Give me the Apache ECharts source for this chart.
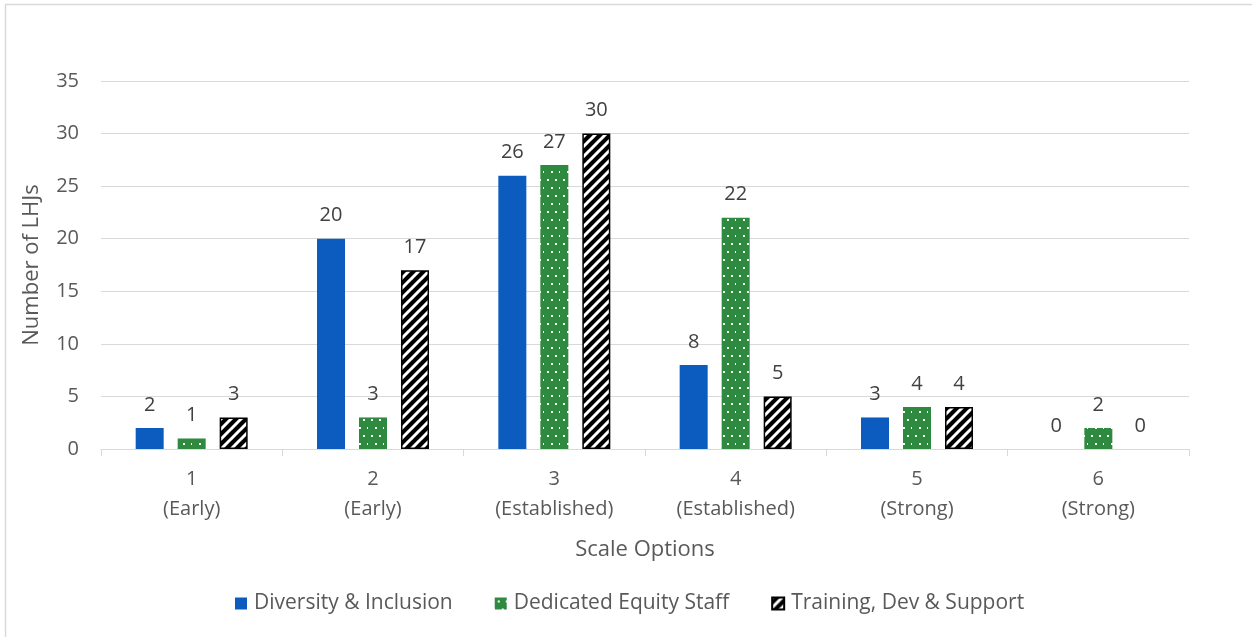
<!DOCTYPE html>
<html>
<head>
<meta charset="utf-8">
<script src="https://cdn.jsdelivr.net/npm/echarts@6/dist/echarts.min.js"></script>
<style>
  html, body { margin: 0; padding: 0; background: #fff; }
  #chart { width: 1252px; height: 637px; }
</style>
</head>
<body>
<div id="chart"></div>
<script>
// Scale levels shown on the x axis (number + stage)
const categories = ['1\n(Early)', '2\n(Early)', '3\n(Established)', '4\n(Established)', '5\n(Strong)', '6\n(Strong)'];
const seriesNames = ['Diversity & Inclusion', 'Dedicated Equity Staff', 'Training, Dev & Support'];
const diversityInclusion = [2, 20, 26, 8, 3, 0];
const dedicatedEquityStaff = [1, 3, 27, 22, 4, 2];
const trainingDevSupport = [3, 17, 30, 5, 4, 0];
const yTicks = { min: 0, max: 35, interval: 5 };

const FONT = '"Open Sans", "Liberation Sans", sans-serif';
const TEXT = '#595959';
const LINE = '#d9d9d9';

// Green fill with small white dots
function dotPattern() {
  const c = document.createElement('canvas');
  c.width = 16; c.height = 16;
  const g = c.getContext('2d');
  g.fillStyle = '#2e8a3f';
  g.fillRect(0, 0, 16, 16);
  g.fillStyle = '#ffffff';
  g.fillRect(3, 3, 2, 2);
  g.fillRect(11, 3, 2, 2);
  g.fillRect(7, 11, 2, 2);
  g.fillRect(15, 11, 1, 2);
  return c;
}

// Black fill with white upward diagonal stripes
function stripePattern() {
  const s = 10;
  const c = document.createElement('canvas');
  c.width = s; c.height = s;
  const g = c.getContext('2d');
  g.fillStyle = '#000';
  g.fillRect(0, 0, s, s);
  g.strokeStyle = '#fff';
  g.lineWidth = 3;
  g.beginPath();
  for (let k = -1; k <= 1; k++) {
    g.moveTo(k * s - 1, s + 1);
    g.lineTo(k * s + s + 1, -1);
  }
  g.stroke();
  return c;
}

// Zero-height bars get no outline so nothing is drawn on the baseline
function withOutline(values, outline) {
  return values.map(v => ({ value: v, itemStyle: v === 0 ? { borderWidth: 0 } : outline }));
}

const chart = echarts.init(document.getElementById('chart'));

const labelStyle = {
  show: true,
  position: 'top',
  distance: 13,
  color: '#404040',
  fontSize: 20,
  fontFamily: FONT
};

chart.setOption({
  backgroundColor: '#ffffff',
  animation: false,
  graphic: [{
    type: 'rect',
    shape: { x: 5.5, y: 4.5, width: 1400, height: 800 },
    style: { fill: 'none', stroke: LINE, lineWidth: 1.5 },
    silent: true
  }],
  grid: { left: 101, right: 63, top: 81, bottom: 188 },
  legend: {
    left: 230,
    top: 588,
    itemWidth: 12,
    itemHeight: 12,
    itemGap: 42,
    icon: 'rect',
    textStyle: { color: TEXT, fontSize: 21, fontFamily: FONT, padding: [0, 0, 0, 2] },
    data: seriesNames
  },
  xAxis: {
    type: 'category',
    data: categories,
    name: 'Scale Options',
    nameLocation: 'middle',
    nameGap: 90,
    nameTextStyle: { color: TEXT, fontSize: 22, fontFamily: FONT },
    axisLine: { lineStyle: { color: LINE, width: 1 } },
    axisTick: { show: true, length: 7, lineStyle: { color: LINE } },
    axisLabel: { color: TEXT, fontSize: 20, fontFamily: FONT, lineHeight: 30, margin: 15 }
  },
  yAxis: {
    type: 'value',
    min: yTicks.min,
    max: yTicks.max,
    interval: yTicks.interval,
    name: 'Number of LHJs',
    nameLocation: 'middle',
    nameGap: 58,
    nameTextStyle: { color: TEXT, fontSize: 22, fontFamily: FONT },
    axisLine: { show: false },
    axisTick: { show: false },
    splitLine: { lineStyle: { color: LINE, width: 1 } },
    axisLabel: { color: TEXT, fontSize: 20, fontFamily: FONT, margin: 22 }
  },
  series: [
    {
      name: seriesNames[0],
      type: 'bar',
      data: diversityInclusion,
      barWidth: 28,
      barGap: '50%',
      itemStyle: { color: '#0b5cbe' },
      label: labelStyle
    },
    {
      name: seriesNames[1],
      type: 'bar',
      data: dedicatedEquityStaff,
      barWidth: 28,
      barGap: '50%',
      itemStyle: { color: { image: dotPattern(), repeat: 'repeat' } },
      label: labelStyle
    },
    {
      name: seriesNames[2],
      type: 'bar',
      data: withOutline(trainingDevSupport, { borderWidth: 1.5 }),
      barWidth: 28,
      barGap: '50%',
      itemStyle: { color: { image: stripePattern(), repeat: 'repeat' }, borderColor: '#000', borderWidth: 1.5 },
      label: labelStyle
    }
  ]
});
</script>
</body>
</html>
